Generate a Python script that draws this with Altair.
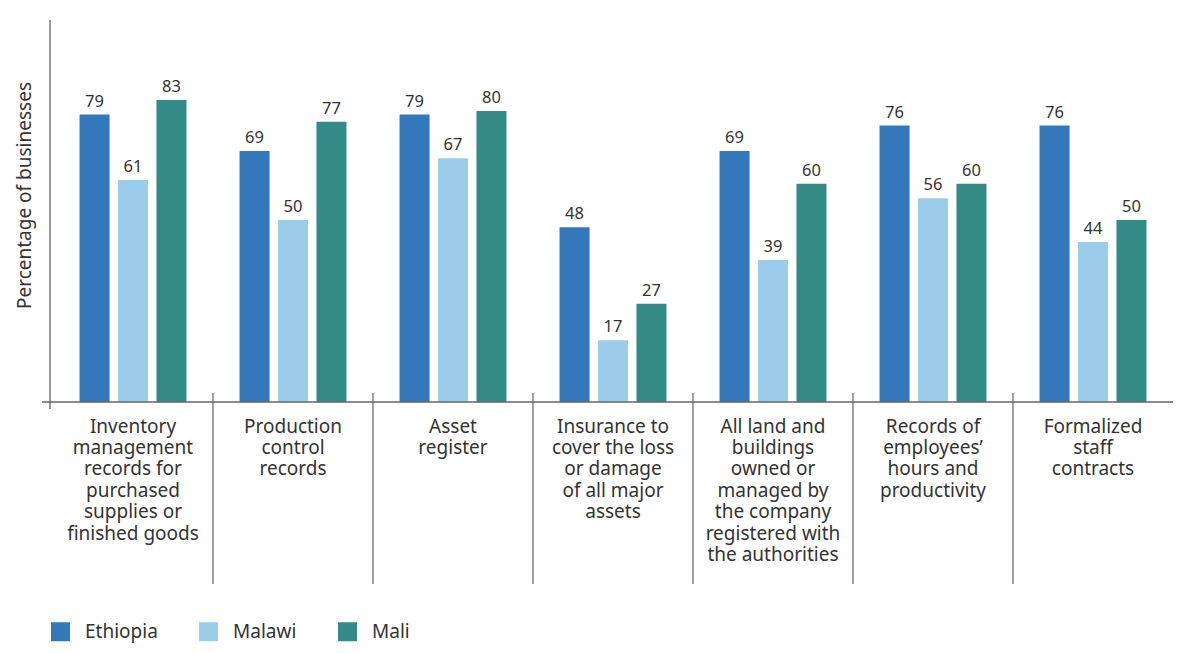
import altair as alt
import pandas as pd

categories = [
    "Inventory|management|records for|purchased|supplies or|finished goods",
    "Production|control|records",
    "Asset|register",
    "Insurance to|cover the loss|or damage|of all major|assets",
    "All land and|buildings|owned or|managed by|the company|registered with|the authorities",
    "Records of|employees’|hours and|productivity",
    "Formalized|staff|contracts",
]
countries = ["Ethiopia", "Malawi", "Mali"]
ethiopia = [79, 69, 79, 48, 69, 76, 76]
malawi = [61, 50, 67, 17, 39, 56, 44]
mali = [83, 77, 80, 27, 60, 60, 50]
colors = ["#3478bc", "#99cdea", "#348a87"]

rows = []
for i, c in enumerate(categories):
    for country, vals in zip(countries, [ethiopia, malawi, mali]):
        rows.append({"cat": c, "country": country, "value": vals[i]})
df = pd.DataFrame(rows)

W, H = 1120, 382
FONT = "Noto Sans"
TXT = "#333333"

xscale = alt.Scale(domain=categories, paddingInner=0, paddingOuter=0)
xoff = alt.Scale(domain=countries, paddingInner=0.22, paddingOuter=0.69)
yscale = alt.Scale(domain=[0, 105], nice=False)

base = alt.Chart(df)

bars = base.mark_bar().encode(
    x=alt.X("cat:N", scale=xscale, title=None,
            axis=alt.Axis(domain=False, ticks=False, labelAngle=0,
                          labelExpr="split(datum.label, '|')",
                          labelFontSize=19, labelLineHeight=21.4,
                          labelPadding=15, labelColor=TXT, labelFont=FONT,
                          labelBaseline="top", labelLimit=0)),
    xOffset=alt.XOffset("country:N", scale=xoff),
    y=alt.Y("value:Q", scale=yscale,
            axis=alt.Axis(domain=False, ticks=False, labels=False, grid=False,
                          title="Percentage of businesses", titleFontSize=19,
                          titleFont=FONT, titleColor=TXT, titleFontWeight="normal",
                          titleX=-29, titleY=175, titleAlign="center",
                          titleBaseline="middle", titleAngle=-90)),
    color=alt.Color("country:N", scale=alt.Scale(domain=countries, range=colors),
                    legend=alt.Legend(title=None, orient="none", legendX=-2,
                                      legendY=602, direction="horizontal",
                                      symbolType="square", symbolSize=361,
                                      symbolStrokeWidth=0, labelFontSize=19,
                                      labelFont=FONT, labelColor=TXT,
                                      labelOffset=15, columnPadding=41,
                                      padding=0)),
)

labels = base.mark_text(baseline="bottom", dy=-5, fontSize=16.5, font=FONT,
                        color=TXT).encode(
    x=alt.X("cat:N", scale=xscale),
    xOffset=alt.XOffset("country:N", scale=xoff),
    y=alt.Y("value:Q", scale=yscale),
    text=alt.Text("value:Q"),
)

seps = alt.Chart(pd.DataFrame({"cat": categories[1:]})).mark_rule(
    color="#444444", strokeWidth=1).encode(
    x=alt.X("cat:N", scale=xscale, bandPosition=0),
    y=alt.value(H - 9),
    y2=alt.value(H + 182),
)

baseline = alt.Chart(pd.DataFrame({"v": [0]})).mark_rule(
    color="#666666", strokeWidth=1.5).encode(
    y=alt.Y("v:Q", scale=yscale),
    x=alt.value(-11),
    x2=alt.value(W),
)

yline = alt.Chart(pd.DataFrame({"v": [0]})).mark_rule(
    color="#555555", strokeWidth=1.2).encode(
    x=alt.value(-3),
    y=alt.value(0),
    y2=alt.value(H + 7),
)

chart = alt.layer(bars, labels, seps, baseline, yline).properties(
    width=W, height=H,
    autosize=alt.AutoSizeParams(type="none"),
    padding={"left": 45, "top": 12, "right": 11, "bottom": 245},
).configure_view(stroke=None)

chart.save("out.html", embed_options={"renderer": "svg", "actions": False})
